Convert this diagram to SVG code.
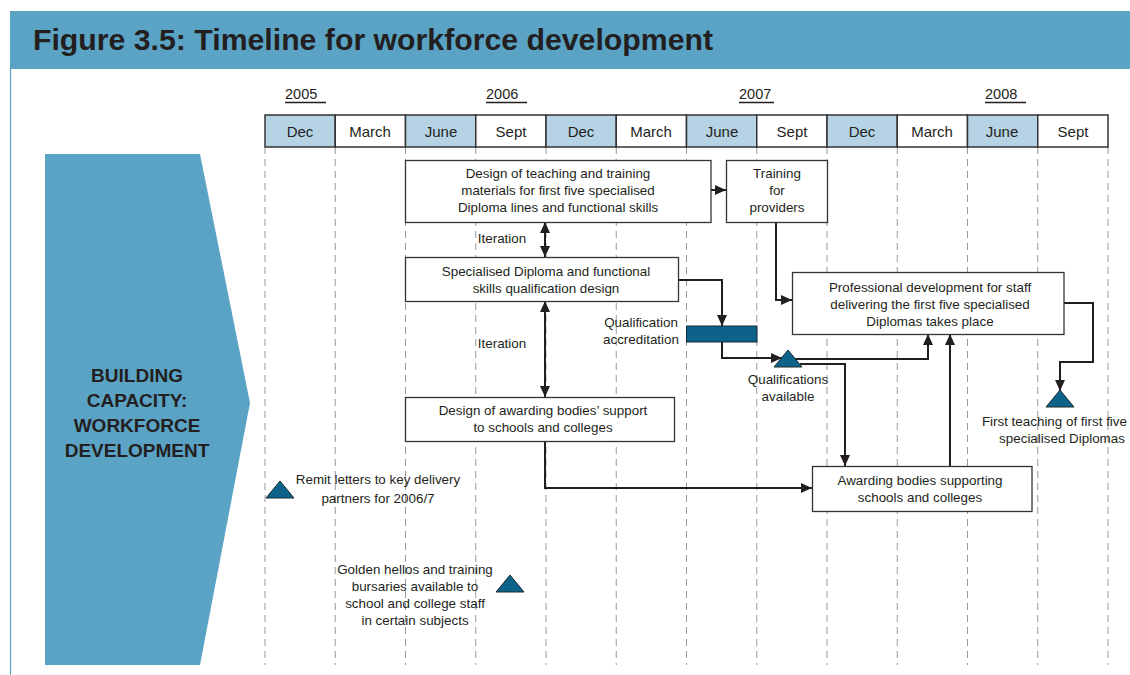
<svg xmlns="http://www.w3.org/2000/svg" width="1130" height="675" viewBox="0 0 1130 675">
<style>
.t{font-family:"Liberation Sans",Arial,sans-serif;font-size:13.4px;fill:#231f20;text-anchor:middle}
.m{font-family:"Liberation Sans",Arial,sans-serif;font-size:15px;fill:#231f20;text-anchor:middle}
.y{font-family:"Liberation Sans",Arial,sans-serif;font-size:14.5px;fill:#231f20}
.box{fill:#fff;stroke:#333;stroke-width:1.3}
.cell{stroke:#333;stroke-width:1.5}
.sh{fill:#b5d3e5}
.wh{fill:#fff}
.dash{stroke:#999;stroke-width:1;stroke-dasharray:7 5}
.c{fill:none;stroke:#231f20;stroke-width:2}
.tri{fill:#0d6289;stroke:#1a2a35;stroke-width:1}
.lbl{font-family:"Liberation Sans",Arial,sans-serif;font-weight:bold;font-size:19px;fill:#231f20;text-anchor:middle}
</style>
<defs>
<marker id="ah" markerUnits="userSpaceOnUse" markerWidth="11" markerHeight="10" refX="11" refY="5" orient="auto-start-reverse">
<path d="M0,0 L11,5 L0,10 z" fill="#231f20"/>
</marker>
</defs>
<rect width="1130" height="675" fill="#fff"/>
<g id="header">
<rect x="10" y="11" width="1120" height="58" fill="#5aa3c5"/>
<line x1="10.5" y1="69" x2="10.5" y2="675" stroke="#5aa3c5" stroke-width="1.2"/>
<text x="33" y="50" font-family="'Liberation Sans',Arial,sans-serif" font-weight="bold" font-size="30" fill="#231f20" textLength="680" lengthAdjust="spacingAndGlyphs">Figure 3.5: Timeline for workforce development</text>
</g>
<g id="side-arrow">
<polygon points="45,154 200,154 250,403 200,665 45,665" fill="#5aa3c5"/>
<text class="lbl" x="137" y="382">BUILDING</text>
<text class="lbl" x="137" y="407">CAPACITY:</text>
<text class="lbl" x="137" y="432">WORKFORCE</text>
<text class="lbl" x="137" y="457">DEVELOPMENT</text>
</g>
<g id="grid">
<line class="dash" x1="265" y1="147" x2="265" y2="665"/>
<line class="dash" x1="335.25" y1="147" x2="335.25" y2="665"/>
<line class="dash" x1="405.5" y1="147" x2="405.5" y2="665"/>
<line class="dash" x1="475.75" y1="147" x2="475.75" y2="665"/>
<line class="dash" x1="546" y1="147" x2="546" y2="665"/>
<line class="dash" x1="616.25" y1="147" x2="616.25" y2="665"/>
<line class="dash" x1="686.5" y1="147" x2="686.5" y2="665"/>
<line class="dash" x1="756.75" y1="147" x2="756.75" y2="665"/>
<line class="dash" x1="827" y1="147" x2="827" y2="665"/>
<line class="dash" x1="897.25" y1="147" x2="897.25" y2="665"/>
<line class="dash" x1="967.5" y1="147" x2="967.5" y2="665"/>
<line class="dash" x1="1037.75" y1="147" x2="1037.75" y2="665"/>
<line class="dash" x1="1108" y1="147" x2="1108" y2="665"/>
</g>
<g id="years">
<text class="y" x="285" y="99">2005</text><line x1="285" y1="102.5" x2="326" y2="102.5" stroke="#231f20" stroke-width="1.3"/>
<text class="y" x="486" y="99">2006</text><line x1="486" y1="102.5" x2="527" y2="102.5" stroke="#231f20" stroke-width="1.3"/>
<text class="y" x="739" y="99">2007</text><line x1="739" y1="102.5" x2="774" y2="102.5" stroke="#231f20" stroke-width="1.3"/>
<text class="y" x="985" y="99">2008</text><line x1="985" y1="102.5" x2="1026" y2="102.5" stroke="#231f20" stroke-width="1.3"/>
</g>
<g id="months">
<rect class="cell sh" x="265" y="115" width="70.25" height="32"/>
<rect class="cell wh" x="335.25" y="115" width="70.25" height="32"/>
<rect class="cell sh" x="405.5" y="115" width="70.25" height="32"/>
<rect class="cell wh" x="475.75" y="115" width="70.25" height="32"/>
<rect class="cell sh" x="546" y="115" width="70.25" height="32"/>
<rect class="cell wh" x="616.25" y="115" width="70.25" height="32"/>
<rect class="cell sh" x="686.5" y="115" width="70.25" height="32"/>
<rect class="cell wh" x="756.75" y="115" width="70.25" height="32"/>
<rect class="cell sh" x="827" y="115" width="70.25" height="32"/>
<rect class="cell wh" x="897.25" y="115" width="70.25" height="32"/>
<rect class="cell sh" x="967.5" y="115" width="70.25" height="32"/>
<rect class="cell wh" x="1037.75" y="115" width="70.25" height="32"/>
<text class="m" x="300" y="137">Dec</text>
<text class="m" x="370" y="137">March</text>
<text class="m" x="441" y="137">June</text>
<text class="m" x="511" y="137">Sept</text>
<text class="m" x="581" y="137">Dec</text>
<text class="m" x="651" y="137">March</text>
<text class="m" x="722" y="137">June</text>
<text class="m" x="792" y="137">Sept</text>
<text class="m" x="862" y="137">Dec</text>
<text class="m" x="932" y="137">March</text>
<text class="m" x="1002" y="137">June</text>
<text class="m" x="1073" y="137">Sept</text>
</g>
<g id="connectors">
<path class="c" d="M711,190 H726" marker-end="url(#ah)"/>
<path class="c" d="M545,222 V257" marker-start="url(#ah)" marker-end="url(#ah)"/>
<path class="c" d="M545,301 V397" marker-start="url(#ah)" marker-end="url(#ah)"/>
<path class="c" d="M776,222 V300 H792" marker-end="url(#ah)"/>
<path class="c" d="M678,280 H722 V326" marker-end="url(#ah)"/>
<path class="c" d="M722,342 V358 H782" marker-end="url(#ah)"/>
<path class="c" d="M795,359 H928 V334" marker-end="url(#ah)"/>
<path class="c" d="M800,364 H845 V466" marker-end="url(#ah)"/>
<path class="c" d="M950,466 V334" marker-end="url(#ah)"/>
<path class="c" d="M1064,303 H1093 V362 H1060 V391" marker-end="url(#ah)"/>
<path class="c" d="M545,441 V488 H812" marker-end="url(#ah)"/>
</g>
<g id="box-design-materials">
<rect class="box" x="405.5" y="160.5" width="305.5" height="62"/>
<text class="t" x="558" y="178">Design of teaching and training</text>
<text class="t" x="558" y="195">materials for first five specialised</text>
<text class="t" x="558" y="212">Diploma lines and functional skills</text>
</g>
<g id="box-training">
<rect class="box" x="726.5" y="160.5" width="101" height="62"/>
<text class="t" x="777" y="178">Training</text>
<text class="t" x="777" y="195">for</text>
<text class="t" x="777" y="212">providers</text>
</g>
<g id="box-qual-design">
<rect class="box" x="405.5" y="257.5" width="273" height="44"/>
<text class="t" x="546" y="276">Specialised Diploma and functional</text>
<text class="t" x="546" y="293">skills qualification design</text>
</g>
<g id="box-awarding-design">
<rect class="box" x="405.5" y="397.5" width="269" height="44"/>
<text class="t" x="543" y="415">Design of awarding bodies’ support</text>
<text class="t" x="543" y="432">to schools and colleges</text>
</g>
<g id="box-prof-dev">
<rect class="box" x="792.5" y="272.5" width="271.5" height="62"/>
<text class="t" x="930" y="292">Professional development for staff</text>
<text class="t" x="930" y="309">delivering the first five specialised</text>
<text class="t" x="930" y="326">Diplomas takes place</text>
</g>
<g id="box-awarding-support">
<rect class="box" x="812.5" y="466.5" width="219.5" height="45"/>
<text class="t" x="920" y="485">Awarding bodies supporting</text>
<text class="t" x="920" y="502">schools and colleges</text>
</g>
<g id="accreditation">
<rect x="686.5" y="326" width="70.5" height="16" fill="#0d6289" stroke="#1a2a35" stroke-width="1"/>
<text class="t" x="641" y="327">Qualification</text>
<text class="t" x="641" y="344">accreditation</text>
</g>
<g id="qual-available">
<polygon class="tri" points="788,350 802,367 774,367"/>
<text class="t" x="788" y="384">Qualifications</text>
<text class="t" x="788" y="401">available</text>
</g>
<g id="first-teaching">
<polygon class="tri" points="1060,390 1074,407 1046,407"/>
<text class="t" x="1127" y="426" style="text-anchor:end">First teaching of first five</text>
<text class="t" x="1062" y="443">specialised Diplomas</text>
</g>
<g id="remit-letters">
<polygon class="tri" points="280,481 294,498 266,498"/>
<text class="t" x="378" y="484">Remit letters to key delivery</text>
<text class="t" x="378" y="503">partners for 2006/7</text>
</g>
<g id="golden-hellos">
<polygon class="tri" points="510,575 524,592 496,592"/>
<text class="t" x="415" y="574">Golden hellos and training</text>
<text class="t" x="415" y="591">bursaries available to</text>
<text class="t" x="415" y="608">school and college staff</text>
<text class="t" x="415" y="625">in certain subjects</text>
</g>
<g id="iteration-labels">
<text class="t" x="502" y="243">Iteration</text>
<text class="t" x="502" y="348">Iteration</text>
</g>
</svg>
